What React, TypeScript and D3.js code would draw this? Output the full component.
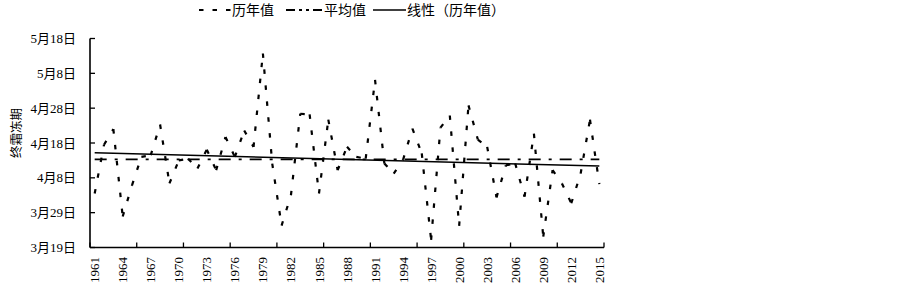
import React from "react";
import * as d3 from "d3";

// Categories: years 1961–2015
const years: number[] = d3.range(1961, 2016);

// Last frost date, in days after 3月19日
const frostDays: number[] = [
  15.5, 29.5, 34.0, 8.9, 17.9, 26.0, 26.5, 35.3, 18.4, 25.0,
  25.5, 22.7, 28.1, 22.2, 31.7, 26.0, 33.6, 28.9, 55.7, 24.1,
  6.3, 15.0, 38.4, 38.2, 15.5, 36.7, 22.2, 28.9, 26.0, 25.5,
  48.1, 24.1, 21.2, 25.2, 34.1, 27.0, 2.2, 34.4, 37.9, 6.2,
  40.8, 31.0, 28.9, 14.4, 23.6, 24.1, 14.6, 32.7, 3.1, 22.2,
  18.4, 12.7, 21.2, 36.7, 18.2,
];

const yTickValues: number[] = [0, 10, 20, 30, 40, 50, 60];
const yTickLabels: string[] = ["3月19日", "3月29日", "4月8日", "4月18日", "4月28日", "5月8日", "5月18日"];
const xLabelYears: number[] = d3.range(1961, 2016, 3);

const legendLabels = ["历年值", "平均值", "线性（历年值）"];
const yTitle = "终霜冻期";

const W = 903;
const H = 290;
const left = 90;
const right = 604;
const top = 38.5;
const bottom = 247.5;

const FONT = '"Times New Roman", "Liberation Serif", "Noto Sans CJK SC", serif';

export default function App() {
  const x = d3.scaleBand<number>().domain(years).range([left, right]).padding(0);
  const bw = x.bandwidth();
  const cx = (yr: number) => (x(yr) as number) + bw / 2;
  const y = d3.scaleLinear().domain([0, 60]).range([bottom, top]);

  const pts = years.map((yr, i) => [cx(yr), y(frostDays[i])] as [number, number]);

  const mean = d3.mean(frostDays) as number;

  // linear regression on index
  const n = frostDays.length;
  const idx = d3.range(n);
  const mx = d3.mean(idx) as number;
  let sxy = 0, sxx = 0;
  idx.forEach((i) => {
    sxy += (i - mx) * (frostDays[i] - mean);
    sxx += (i - mx) * (i - mx);
  });
  const slope = sxy / sxx;
  const intercept = mean - slope * mx;
  const lineGen = d3.line<[number, number]>();
  const trend = lineGen([
    [cx(years[0]), y(intercept)],
    [cx(years[n - 1]), y(intercept + slope * (n - 1))],
  ]) as string;

  const xTicks = d3.range(0, n + 1, 5).map((k) => left + k * bw);

  const dashSeries = "4.5,11.5";
  const dashMean = "12,8,3,8";

  return (
    <svg width={W} height={H} style={{ position: "absolute", left: 0, top: 0, background: "#fff" }} fontFamily={FONT}>
      {/* Legend */}
      <g fontSize={14} fill="#000">
        <line x1={199} x2={231} y1={10} y2={10} stroke="#000" strokeWidth={2.2} strokeDasharray="4.5,9" />
        <text x={232} y={10} dy="0.35em">{legendLabels[0]}</text>
        <line x1={286} x2={322} y1={10} y2={10} stroke="#000" strokeWidth={1.8} strokeDasharray="9,4,3,4,3,4" />
        <text x={324} y={10} dy="0.35em">{legendLabels[1]}</text>
        <line x1={373} x2={406} y1={10} y2={10} stroke="#000" strokeWidth={1.5} />
        <text x={407} y={10} dy="0.35em">{legendLabels[2]}</text>
      </g>

      {/* Y title */}
      <text transform={`translate(17,133) rotate(-90)`} textAnchor="middle" dy="0.35em" fontSize={12.5}>
        {yTitle}
      </text>

      {/* Y axis */}
      <line x1={left} x2={left} y1={top} y2={bottom} stroke="#000" strokeWidth={1.6} />
      {yTickValues.map((v, i) => (
        <g key={v}>
          <line x1={left} x2={left + 5} y1={y(v)} y2={y(v)} stroke="#000" strokeWidth={1.3} />
          <text x={76} y={y(v)} dy="0.35em" textAnchor="end" fontSize={13}>
            {yTickLabels[i]}
          </text>
        </g>
      ))}

      {/* X axis */}
      <line x1={left} x2={right} y1={bottom} y2={bottom} stroke="#000" strokeWidth={1.6} />
      {xTicks.map((tx) => (
        <line key={tx} x1={tx} x2={tx} y1={bottom} y2={bottom - 5} stroke="#000" strokeWidth={1.3} />
      ))}
      {xLabelYears.map((yr) => (
        <text
          key={yr}
          transform={`translate(${cx(yr)},257) rotate(-90)`}
          textAnchor="end"
          dy="0.35em"
          fontSize={13}
        >
          {yr}
        </text>
      ))}

      {/* Mean line */}
      <line
        x1={cx(years[0])}
        x2={cx(years[n - 1])}
        y1={y(mean)}
        y2={y(mean)}
        stroke="#000"
        strokeWidth={1.8}
        strokeDasharray={dashMean}
      />

      {/* Trend line */}
      <path d={trend} stroke="#000" strokeWidth={1.5} fill="none" />

      {/* Series: dashed, pattern restarts at each point */}
      {pts.slice(0, -1).map((p, i) => (
        <path
          key={i}
          d={lineGen([p, pts[i + 1]]) as string}
          stroke="#000"
          strokeWidth={2.2}
          fill="none"
          strokeDasharray={dashSeries}
        />
      ))}
    </svg>
  );
}
